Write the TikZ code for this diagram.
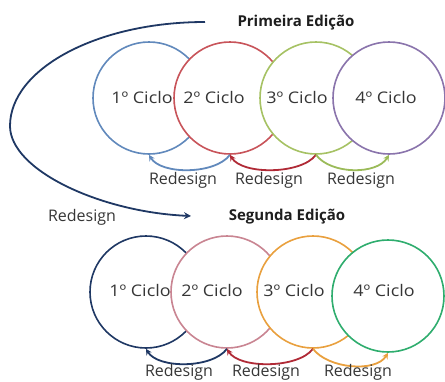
\documentclass[tikz,border=0pt]{standalone}
\usepackage{fontspec}
\setmainfont{Open Sans}
\usetikzlibrary{arrows.meta}
% palette
\definecolor{txt}{HTML}{363636}
\definecolor{ink}{HTML}{1E1E1E}
\definecolor{navy}{HTML}{1F3864}
\definecolor{steel}{HTML}{6189BC}
\definecolor{brick}{HTML}{C8545A}
\definecolor{olive}{HTML}{A6C264}
\definecolor{plum}{HTML}{8A74AC}
\definecolor{rose}{HTML}{C98592}
\definecolor{amber}{HTML}{E9A03E}
\definecolor{jade}{HTML}{2FAD6E}
\definecolor{crimson}{HTML}{B02A36}
\definecolor{leaf}{HTML}{9BBB59}
% cycle labels are set slightly wide
\newcommand{\cyc}[1]{\scalebox{1.12}[1]{#1º Ciclo}}
\begin{document}
\begin{tikzpicture}[x=1pt,y=-1pt,
  ring/.style={circle,draw,fill=white,line width=1.6pt,minimum size=112pt,inner sep=0pt},
  lbl/.style={text=txt,font=\fontsize{16}{19}\selectfont},
  ttl/.style={text=ink,font=\bfseries\fontsize{15}{18}\selectfont},
  loopback/.style={line width=1.8pt,-{Stealth[length=6pt,width=6pt]}}]
\useasboundingbox (0,0) rectangle (445,381);

% first edition: four cycles, each one laid over the previous
\node[ring,draw=steel] (a1) at (149,98) {};
\node[ring,draw=brick] (a2) at (230,98) {};
\node[ring,draw=olive] (a3) at (316,98) {};
\node[ring,draw=plum]  (a4) at (389,98) {};
\node[lbl] (ta1) at (142,97) {\cyc{1}};
\node[lbl] (ta2) at (214,97) {\cyc{2}};
\node[lbl] (ta3) at (297,97) {\cyc{3}};
\node[lbl] (ta4) at (386,97) {\cyc{4}};
\node[ttl] (ed1) at (296,23) {Primeira Edição};

\draw[loopback,steel] (a2.south) .. controls +(-15,20) and +(12,20) .. (a1.south);
\draw[loopback,crimson] (a3.south) .. controls +(-15,20) and +(12,20) .. (a2.south);
\draw[loopback,leaf] (a3.south) .. controls +(15,20) and +(-12,20) .. (a4.south);
\node[lbl] (ra1) at (183,180) {Redesign};
\node[lbl] (ra2) at (269,180) {Redesign};
\node[lbl] (ra3) at (361,180) {Redesign};

% redesign of the whole edition
\coordinate (from) at (205,22);
\coordinate (bend) at (10,126);
\coordinate (to) at (191,216);
\draw[line width=1.8pt,navy,-{Stealth[length=7pt,width=7pt]}]
  (from) .. controls (97,22) and (10,69) .. (bend)
         .. controls (10,170) and (100,212) .. (to);
\node[lbl] (rr) at (82,217) {Redesign};

% second edition: four cycles
\node[ring,draw=navy]  (b1) at (146,292) {};
\node[ring,draw=rose]  (b2) at (227,292) {};
\node[ring,draw=amber] (b3) at (313,292) {};
\node[ring,draw=jade]  (b4) at (388,296) {};
\node[lbl] (tb1) at (140,290) {\cyc{1}};
\node[lbl] (tb2) at (212,290) {\cyc{2}};
\node[lbl] (tb3) at (294,290) {\cyc{3}};
\node[lbl] (tb4) at (384,290) {\cyc{4}};
\node[ttl] (ed2) at (287,217) {Segunda Edição};

\draw[loopback,navy] (b2.south) .. controls +(-15,20) and +(12,20) .. (b1.south);
\draw[loopback,crimson] (b3.south) .. controls +(-15,20) and +(12,20) .. (b2.south);
\draw[loopback,amber] (b3.south) .. controls +(15,20) and +(-12,20) .. (b4.south);
\node[lbl] (rb1) at (179,372) {Redesign};
\node[lbl] (rb2) at (266,372) {Redesign};
\node[lbl] (rb3) at (358,372) {Redesign};
\end{tikzpicture}
\end{document}
